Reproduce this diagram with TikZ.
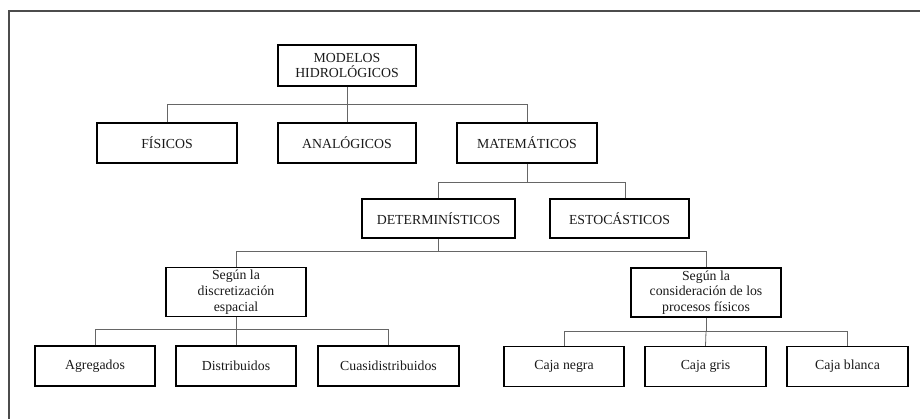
\documentclass[tikz,border=0pt]{standalone}
\usepackage{fontspec}
\setmainfont{Liberation Serif}
\begin{document}
\begin{tikzpicture}[x=1pt,y=-1pt,
  box/.style={draw=black,line width=1.1pt,rectangle,align=center,inner sep=1pt,
    font=\fontsize{13.8}{15.8}\selectfont,text=black!90},
  link/.style={draw=black!60,line width=0.8pt},
  frame/.style={draw=black!70,line width=1.4pt}]
\useasboundingbox (0,0) rectangle (920,419);
% outer frame (open at right and bottom)
\draw[frame] (9,430) -- (9,11) -- (930,11);

% level 0
\node[box,minimum width=138pt,minimum height=41pt] (mod) at (347,65.5) {MODELOS\\HIDROLÓGICOS};
% level 1
\node[box,minimum width=140pt,minimum height=40pt] (fis) at (167,143) {FÍSICOS};
\node[box,minimum width=138pt,minimum height=40pt] (ana) at (347,143) {ANALÓGICOS};
\node[box,minimum width=140pt,minimum height=40pt] (mat) at (527,143) {MATEMÁTICOS};
% level 2
\node[box,minimum width=153pt,minimum height=39pt] (det) at (438.5,218.5) {DETERMINÍSTICOS};
\node[box,minimum width=139pt,minimum height=39pt] (est) at (619.5,218.5) {ESTOCÁSTICOS};
% level 3
\node[box,minimum width=140pt,minimum height=49pt] (dis) at (236,292) {Según la\\discretización\\espacial};
\node[box,minimum width=150pt,minimum height=49pt] (con) at (706,292.5) {Según la\\consideración de los\\procesos físicos};
% level 4
\node[box,minimum width=120pt,minimum height=40pt] (agr) at (95,366) {Agregados};
\node[box,minimum width=120pt,minimum height=40pt] (dst) at (236,366) {Distribuidos};
\node[box,minimum width=141pt,minimum height=40pt] (cua) at (388.5,366) {Cuasidistribuidos};
\node[box,minimum width=120pt,minimum height=40pt] (cn) at (564,366.5) {Caja negra};
\node[box,minimum width=121pt,minimum height=40pt] (cg) at (705.5,366.5) {Caja gris};
\node[box,minimum width=121pt,minimum height=40pt] (cb) at (847.5,366.5) {Caja blanca};

% bus points
\coordinate (b0) at (347,104);
\coordinate (b1) at (527,182);
\coordinate (b2) at (438.5,251);
\coordinate (b3) at (236,329);
\coordinate (b4) at (706,331);

% connectors
\draw[link] (mod.south) -- (b0);
\draw[link] (fis.north) |- (b0);
\draw[link] (ana.north) -- (b0);
\draw[link] (mat.north) |- (b0);

\draw[link] (mat.south) -- (b1);
\draw[link] (det.north) |- (b1);
\draw[link] ([xshift=5.5pt]est.north) |- (b1);

\draw[link] (det.south) -- (b2);
\draw[link] (dis.north) |- (b2);
\draw[link] (con.north) |- (b2);

\draw[link] (dis.south) -- (b3);
\draw[link] (agr.north) |- (b3);
\draw[link] (dst.north) -- (b3);
\draw[link] (cua.north) |- (b3);

\draw[link] (con.south) -- (b4);
\draw[link] (cn.north) |- (b4);
\draw[link] (cg.north) -- (b4);
\draw[link] (cb.north) |- (b4);
\end{tikzpicture}
\end{document}
